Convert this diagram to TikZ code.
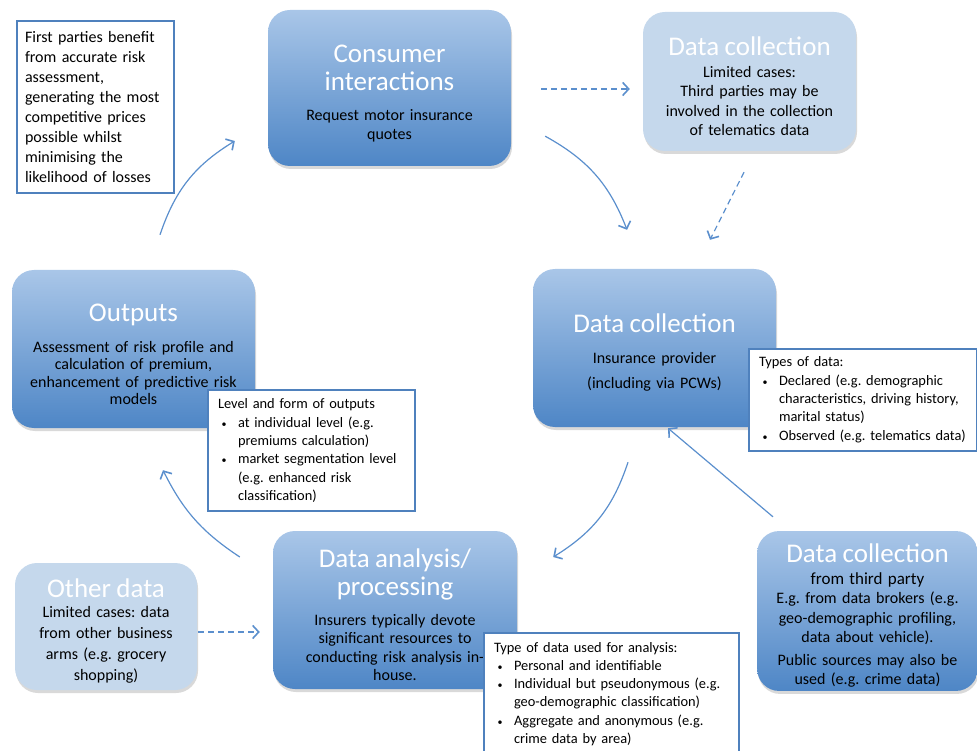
\documentclass[tikz,border=0pt]{standalone}
\usepackage{fontspec}
\setmainfont{Carlito}
\usetikzlibrary{arrows.meta,shadows}
\definecolor{boxtop}{HTML}{A9C6E8}
\definecolor{boxbot}{HTML}{4E86C6}
\definecolor{boxlight}{HTML}{C5D8EC}
\definecolor{lineblue}{HTML}{5B8FCD}
\definecolor{frameblue}{HTML}{4F81BD}
\frenchspacing
\newcommand\boxttl[2][0pt]{{\color{white}\fontsize{27}{28}\selectfont\rule{0pt}{28pt}#2\par}\vspace{#1}}
\newcommand\bul[1]{\par\noindent\hangindent=20pt\hangafter=1\makebox[20pt][l]{\hspace{3.5pt}{\fontsize{10}{10}\selectfont\textbullet}}#1\par}
\begin{document}
\begin{tikzpicture}[x=1pt,y=-1pt,
  roundbox/.style={rounded corners=22pt, draw=none, align=center,
    font=\fontsize{16}{18.5}\selectfont,
    drop shadow={opacity=0.3, shadow xshift=1pt, shadow yshift=-3pt}},
  stage/.style={roundbox, top color=boxtop, bottom color=boxbot},
  lightstage/.style={roundbox, fill=boxlight},
  note/.style={draw=frameblue, line width=2pt, fill=white, align=left,
    anchor=north west, inner xsep=10pt, inner ysep=9pt,
    font=\fontsize{14.4}{18.3}\selectfont},
  flow/.style={lineblue, line width=1.2pt,
    -{Straight Barb[length=6pt,width=13pt,line width=1.6pt]}},
  dashflow/.style={flow, dash pattern=on 6pt off 4pt}]
\useasboundingbox (0,0) rectangle (977,751);
\node[stage, minimum width=243pt, minimum height=156pt, text width=225pt] (consumer) at (389.5,88)
  {\boxttl[12pt]{Consumer\\interactions}Request motor insurance\\quotes};
\node[lightstage, minimum width=213pt, minimum height=139pt, text width=205pt,
  font=\fontsize{16}{19.5}\selectfont] (dctop) at (749.5,81.5)
  {\boxttl[2.5pt]{Data collection}Limited cases:\\Third parties may be\\involved in the collection\\of telematics data};
\node[stage, minimum width=243pt, minimum height=158pt, text width=225pt] (dcmain) at (654.5,348)
  {\boxttl[12.5pt]{Data collection}Insurance provider\\[6.5pt](including via PCWs)};
\node[stage, minimum width=243pt, minimum height=158pt, text width=235pt,
  font=\fontsize{16}{17.5}\selectfont] (outputs) at (133.5,349)
  {\boxttl[13.5pt]{Outputs}Assessment of risk profile and\\calculation of premium,\\enhancement of predictive risk\\models};
\node[stage, minimum width=244pt, minimum height=158pt, text width=225pt] (analysis) at (395,610)
  {\boxttl[11.5pt]{Data analysis/\\processing}Insurers typically devote\\significant resources to\\conducting risk analysis in-\\house.};
\node[lightstage, minimum width=182pt, minimum height=127pt, text width=175pt,
  font=\fontsize{16}{21}\selectfont] (other) at (106,626.5)
  {\boxttl[-1pt]{Other data}Limited cases: data\\from other business\\arms (e.g. grocery\\shopping)};
\node[stage, minimum width=219pt, minimum height=158pt, text width=214pt,
  font=\fontsize{16}{19.5}\selectfont] (thirdparty) at (867.5,611)
  {\boxttl[2.5pt]{Data collection}{\fontsize{17}{19.5}\selectfont from third party\par}E.g. from data brokers (e.g.\\geo-demographic profiling,\\data about vehicle).\\[3pt]Public sources may also be\\used (e.g. crime data)};
% arrows round the cycle
\draw[flow] ([xshift=26.5pt,yshift=35pt]outputs.north) to[bend left=20] ([xshift=-33pt,yshift=-53pt]consumer.west);
\draw[dashflow] ([xshift=30pt,yshift=-1pt]consumer.east) -- ([xshift=-13pt,yshift=-7.5pt]dctop.west);
\draw[flow] ([xshift=34pt,yshift=30pt]consumer.south east) to[bend left=20] ([xshift=-27.5pt,yshift=39pt]dcmain.north);
\draw[dashflow] ([xshift=-5.5pt,yshift=-21pt]dctop.south) -- ([xshift=55.5pt,yshift=29pt]dcmain.north);
\draw[flow] ([xshift=-26.5pt,yshift=-35pt]dcmain.south) to[bend left=20] ([xshift=36pt,yshift=53pt]analysis.east);
\draw[flow] ([xshift=-94.5pt,yshift=14pt]thirdparty.north) -- ([xshift=13.5pt,yshift=-1pt]dcmain.south);
\draw[flow] ([xshift=-33pt,yshift=53pt]analysis.west) to[bend left=15] ([xshift=29.5pt,yshift=-42pt]outputs.south);
\draw[dashflow] ([xshift=1pt,yshift=-5.5pt]other.east) -- ([xshift=-13pt,yshift=-22pt]analysis.west);
% side notes
\node[note, text width=141pt, inner xsep=8pt, inner ysep=10.5pt, font=\fontsize{16}{20}\selectfont] (benefit) at (16,20)
  {First parties benefit\\from accurate risk\\assessment,\\generating the most\\competitive prices\\possible whilst\\minimising the\\likelihood of losses};
\node[note, text width=187pt] (levels) at (207,389)
  {Level and form of outputs
  \bul{at individual level (e.g.\newline premiums calculation)}
  \bul{market segmentation level\newline (e.g. enhanced risk\newline classification)}};
\node[note, text width=208pt, inner ysep=8pt] (types) at (748,348)
  {Types of data:
  \bul{Declared (e.g. demographic\newline characteristics, driving history,\newline marital status)}
  \bul{Observed (e.g. telematics data)}};
\node[note, text width=235pt] (usedtypes) at (483,632)
  {Type of data used for analysis:
  \bul{Personal and identifiable}
  \bul{Individual but pseudonymous (e.g.\newline geo-demographic classification)}
  \bul{Aggregate and anonymous (e.g.\newline crime data by area)}};
\end{tikzpicture}
\end{document}
